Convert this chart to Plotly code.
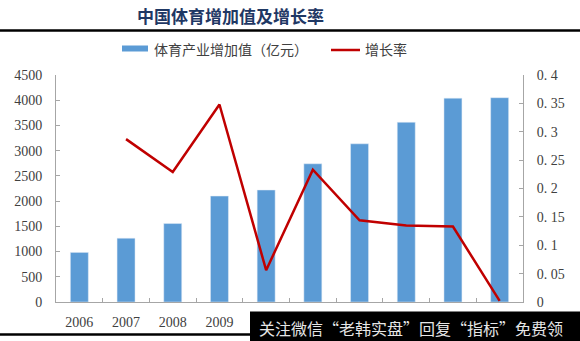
import plotly.graph_objects as go

years = ["2006", "2007", "2008", "2009", "2010", "2011", "2012", "2013", "2014", "2015"]
year_labels = ["2006", "2007", "2008", "2009", "", "", "", "", "", ""]
added_value = [983, 1265, 1555, 2100, 2220, 2740, 3136, 3563, 4041, 4050]
growth_years = ["2007", "2008", "2009", "2010", "2011", "2012", "2013", "2014", "2015"]
growth_rate = [0.287, 0.229, 0.348, 0.056, 0.233, 0.144, 0.135, 0.133, 0.002]

left_ticks = [0, 500, 1000, 1500, 2000, 2500, 3000, 3500, 4000, 4500]
right_ticks = [0, 0.05, 0.1, 0.15, 0.2, 0.25, 0.3, 0.35, 0.4]
right_ticktext = ["0", "0. 05", "0. 1", "0. 15", "0. 2", "0. 25", "0. 3", "0. 35", "0. 4"]

BLUE = "#5B9BD5"
RED = "#C00000"
AXIS = "#A6A6A6"
TXT = "#404040"
SERIF = "Liberation Serif, DejaVu Serif, serif"
CJK = "Noto Sans CJK SC, sans-serif"

fig = go.Figure()
fig.add_trace(go.Bar(x=years, y=added_value, marker_color=BLUE, name="体育产业增加值（亿元）",
                     showlegend=False))
fig.add_trace(go.Scatter(x=growth_years, y=growth_rate, mode="lines", yaxis="y2",
                         line=dict(color=RED, width=2.5), name="增长率", showlegend=False))

fig.update_layout(
    width=580, height=341,
    margin=dict(l=56, r=57, t=75, b=39),
    paper_bgcolor="white", plot_bgcolor="white",
    bargap=0.615,
    xaxis=dict(type="category", showline=True, linecolor=AXIS, linewidth=1,
               tickvals=years, ticktext=year_labels,
               ticks="inside", tickson="boundaries", ticklen=4, tickcolor=AXIS,
               ticklabelstandoff=7,
               showgrid=False, tickfont=dict(family=SERIF, size=14, color=TXT)),
    yaxis=dict(range=[0, 4500], tickvals=left_ticks, showline=True, linecolor=AXIS,
               ticks="inside", ticklen=4, tickcolor=AXIS, showgrid=False, zeroline=False,
               ticklabelstandoff=10,
               tickfont=dict(family=SERIF, size=14, color=TXT)),
    yaxis2=dict(range=[0, 0.4], overlaying="y", side="right", tickvals=right_ticks,
                ticktext=right_ticktext, showline=True, linecolor=AXIS, ticks="inside",
                ticklen=4, tickcolor=AXIS, showgrid=False, zeroline=False,
                ticklabelstandoff=10,
                tickfont=dict(family=SERIF, size=14, color=TXT)),
)

def px(x):
    return (x - 56) / 467

def py(y):
    return 1 + (75 - y) / 227

shapes = [
    dict(type="line", xref="paper", yref="paper", x0=px(0), x1=px(580),
         y0=py(30.5), y1=py(30.5), line=dict(color="black", width=2.5)),
    dict(type="line", xref="paper", yref="paper", x0=px(0), x1=px(252),
         y0=py(334.5), y1=py(334.5), line=dict(color="black", width=2.5)),
    dict(type="rect", xref="paper", yref="paper", x0=px(122), x1=px(148),
         y0=py(51.5), y1=py(45.5), fillcolor=BLUE, line=dict(width=0)),
    dict(type="line", xref="paper", yref="paper", x0=px(331), x1=px(360),
         y0=py(50), y1=py(50), line=dict(color=RED, width=2.5)),
    dict(type="rect", xref="paper", yref="paper", x0=px(250), x1=px(600),
         y0=py(345), y1=py(311.5), fillcolor="black", line=dict(width=0),
         layer="above"),
]
fig.update_layout(shapes=shapes)

annotations = [
    dict(text="<b>中国体育增加值及增长率</b>", x=px(230), y=py(16), xref="paper", yref="paper",
         showarrow=False, xanchor="center", yanchor="middle",
         font=dict(family=CJK, size=17, color="#1F3864")),
    dict(text="体育产业增加值（亿元）", x=px(152), y=py(49), xref="paper", yref="paper",
         showarrow=False, xanchor="left", yanchor="middle",
         font=dict(family=CJK, size=14, color=TXT)),
    dict(text="增长率", x=px(363), y=py(49), xref="paper", yref="paper",
         showarrow=False, xanchor="left", yanchor="middle",
         font=dict(family=CJK, size=14, color=TXT)),
    dict(text="关注微信“老韩实盘”回复“指标”免费领", x=px(257), y=py(328), xref="paper", yref="paper",
         showarrow=False, xanchor="left", yanchor="middle",
         font=dict(family=CJK, size=16, color="#E6E6E6")),
]
fig.update_layout(annotations=annotations)

fig.write_html("out.html")
